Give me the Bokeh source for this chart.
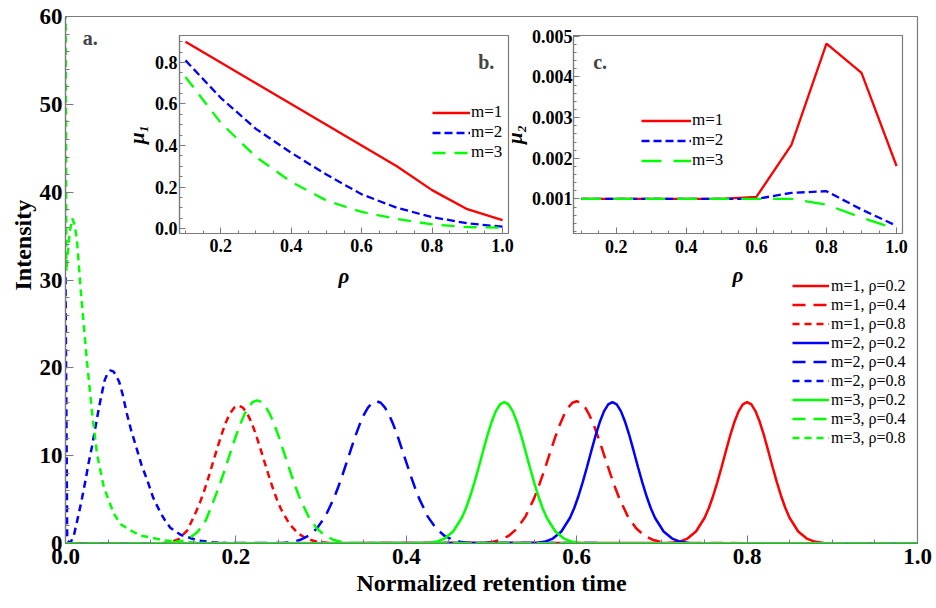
import numpy as np
from bokeh.plotting import figure
from bokeh.models import GridBox, FixedTicker, NumeralTickFormatter, Label, Range1d, Title
from bokeh.embed import file_html
from bokeh.resources import INLINE

FONT = "Liberation Serif"
RED, BLUE, GREEN = "#ff0000", "#0000ff", "#00ff00"
FRAME = "#7a7a7a"

# ---------------- main panel data (normalized retention time, intensity) ----------------
t_m1_r02 = [0.0, 0.71, 0.72, 0.73, 0.74, 0.75, 0.755, 0.76, 0.765, 0.77, 0.775, 0.78, 0.785, 0.79, 0.795,
            0.80, 0.805, 0.81, 0.815, 0.82, 0.825, 0.83, 0.835, 0.84, 0.845, 0.85, 0.86, 0.87, 0.88, 0.89, 1.0]
I_m1_r02 = [0, 0.06, 0.19, 0.56, 1.37, 2.90, 4.01, 5.38, 6.96, 8.68, 10.48, 12.24, 13.80, 15.04, 15.83,
            16.1, 15.83, 15.04, 13.80, 12.24, 10.48, 8.68, 6.96, 5.38, 4.01, 2.90, 1.37, 0.56, 0.19, 0.06, 0]

t_m1_r04 = [0.0, 0.49, 0.50, 0.51, 0.52, 0.53, 0.54, 0.55, 0.555, 0.56, 0.565, 0.57, 0.575, 0.58, 0.585, 0.59, 0.595,
            0.60, 0.605, 0.61, 0.615, 0.62, 0.625, 0.63, 0.635, 0.64, 0.645, 0.65, 0.66, 0.67, 0.68, 0.69, 0.70, 0.71, 1.0]
I_m1_r04 = [0, 0.06, 0.16, 0.39, 0.86, 1.70, 3.09, 5.14, 6.40, 7.78, 9.23, 10.71, 12.17, 13.48, 14.61, 15.47, 16.02,
            16.2, 16.02, 15.47, 14.61, 13.48, 12.17, 10.71, 9.23, 7.78, 6.40, 5.14, 3.09, 1.70, 0.86, 0.39, 0.16, 0.06, 0]

t_m1_r08 = [0.0, 0.113, 0.123, 0.133, 0.143, 0.153, 0.158, 0.163, 0.168, 0.173, 0.178, 0.183, 0.188, 0.193, 0.198,
            0.203, 0.208, 0.213, 0.218, 0.223, 0.228, 0.233, 0.238, 0.243, 0.248, 0.253, 0.263, 0.273, 0.283, 0.293,
            0.303, 0.313, 1.0]
I_m1_r08 = [0, 0.04, 0.15, 0.5, 1.5, 3.55, 4.71, 6.06, 7.58, 9.20, 10.83, 12.37, 13.74, 14.79, 15.46,
            15.7, 15.48, 14.85, 13.85, 12.55, 11.05, 9.45, 7.9, 6.4, 5.05, 3.9, 2.2, 1.15, 0.55, 0.25, 0.1, 0.03, 0]

t_m2_r02 = [0.0, 0.552, 0.562, 0.572, 0.582, 0.592, 0.597, 0.602, 0.607, 0.612, 0.617, 0.622, 0.627, 0.632, 0.637,
            0.642, 0.647, 0.652, 0.657, 0.662, 0.667, 0.672, 0.677, 0.682, 0.687, 0.692, 0.702, 0.712, 0.722, 0.732, 1.0]
I_m2_r02 = [0, 0.06, 0.19, 0.56, 1.37, 2.90, 4.01, 5.38, 6.96, 8.68, 10.48, 12.24, 13.80, 15.04, 15.83,
            16.1, 15.83, 15.04, 13.80, 12.24, 10.48, 8.68, 6.96, 5.38, 4.01, 2.90, 1.37, 0.56, 0.19, 0.06, 0]

t_m2_r04 = [0.0, 0.255, 0.265, 0.275, 0.285, 0.295, 0.305, 0.315, 0.32, 0.325, 0.33, 0.335, 0.34, 0.345, 0.35, 0.355, 0.36,
            0.365, 0.37, 0.375, 0.38, 0.385, 0.39, 0.395, 0.40, 0.405, 0.41, 0.415, 0.425, 0.435, 0.445, 0.455, 0.465, 0.475, 1.0]
I_m2_r04 = [0, 0.06, 0.16, 0.39, 0.86, 1.70, 3.09, 5.14, 6.40, 7.78, 9.23, 10.71, 12.17, 13.48, 14.61, 15.47, 16.02,
            16.2, 16.02, 15.47, 14.61, 13.48, 12.17, 10.71, 9.23, 7.78, 6.40, 5.14, 3.09, 1.70, 0.86, 0.39, 0.16, 0.06, 0]

t_m2_r08 = [0.0, 0.002, 0.006, 0.010, 0.0156, 0.0195, 0.0235, 0.027, 0.031, 0.0345, 0.038, 0.042, 0.046, 0.0495,
            0.0528, 0.056, 0.059, 0.063, 0.067, 0.072, 0.077, 0.083, 0.089, 0.096, 0.103, 0.1115, 0.117, 0.123,
            0.135, 0.155, 0.175, 0.20, 1.0]
I_m2_r08 = [30.3, 0.3, 0.1, 1.0, 3.4, 5.2, 7.2, 9.1, 11.0, 12.9, 14.8, 16.8, 18.6, 19.4,
            19.7, 19.6, 19.2, 18.4, 17.0, 14.8, 12.9, 11.0, 9.0, 7.2, 5.2, 3.5, 2.6, 1.8,
            1.0, 0.35, 0.1, 0.02, 0.0]

t_m3_r02 = [0.0, 0.425, 0.435, 0.445, 0.455, 0.465, 0.47, 0.475, 0.48, 0.485, 0.49, 0.495, 0.5, 0.505, 0.51,
            0.515, 0.52, 0.525, 0.53, 0.535, 0.54, 0.545, 0.55, 0.555, 0.56, 0.565, 0.575, 0.585, 0.595, 0.605, 1.0]
I_m3_r02 = [0, 0.06, 0.19, 0.56, 1.37, 2.90, 4.01, 5.38, 6.96, 8.68, 10.48, 12.24, 13.80, 15.04, 15.83,
            16.1, 15.83, 15.04, 13.80, 12.24, 10.48, 8.68, 6.96, 5.38, 4.01, 2.90, 1.37, 0.56, 0.19, 0.06, 0]

t_m3_r04 = [0.0, 0.115, 0.125, 0.135, 0.145, 0.155, 0.165, 0.175, 0.18, 0.185, 0.19, 0.195, 0.20, 0.205, 0.21, 0.215, 0.22,
            0.225, 0.23, 0.235, 0.24, 0.245, 0.25, 0.255, 0.26, 0.265, 0.27, 0.275, 0.285, 0.295, 0.305, 0.315, 0.325, 0.335, 1.0]
I_m3_r04 = [0, 0.02, 0.08, 0.25, 0.6, 1.3, 2.7, 5.17, 6.44, 7.83, 9.29, 10.78, 12.25, 13.56, 14.70, 15.57, 16.12,
            16.3, 16.12, 15.57, 14.70, 13.56, 12.25, 10.78, 9.29, 7.83, 6.44, 5.17, 3.11, 1.71, 0.87, 0.39, 0.16, 0.06, 0]

t_m3_r08 = [0.0, 0.001, 0.003, 0.005, 0.008, 0.011, 0.0137, 0.0176, 0.0195, 0.0254, 0.0313, 0.037, 0.045,
            0.0567, 0.0646, 0.076, 0.088, 0.10, 0.115, 0.14, 0.17, 1.0]
I_m3_r08 = [66.0, 31.0, 33.5, 35.5, 37.0, 36.2, 34.2, 29.2, 27.0, 20.5, 14.8, 10.2, 6.4,
            3.4, 2.2, 1.5, 0.9, 0.7, 0.35, 0.15, 0.03, 0.0]

series_labels = ["m=1, ρ=0.2", "m=1, ρ=0.4", "m=1, ρ=0.8",
                 "m=2, ρ=0.2", "m=2, ρ=0.4", "m=2, ρ=0.8",
                 "m=3, ρ=0.2", "m=3, ρ=0.4", "m=3, ρ=0.8"]

# ---------------- inset data ----------------
rho = [0.1, 0.2, 0.3, 0.4, 0.5, 0.6, 0.7, 0.8, 0.9, 1.0]
mu1_m1 = [0.90, 0.80, 0.70, 0.60, 0.50, 0.40, 0.30, 0.185, 0.093, 0.04]
mu1_m2 = [0.81, 0.63, 0.48, 0.365, 0.26, 0.165, 0.10, 0.055, 0.025, 0.009]
mu1_m3 = [0.73, 0.51, 0.345, 0.225, 0.135, 0.08, 0.046, 0.02, 0.007, 0.004]
mu2_m1 = [0.001, 0.001, 0.001, 0.001, 0.001, 0.00105, 0.00233, 0.00482, 0.0041, 0.00181]
mu2_m2 = [0.001, 0.001, 0.001, 0.001, 0.001, 0.001, 0.00115, 0.00119, 0.00074, 0.00034]
mu2_m3 = [0.001, 0.001, 0.001, 0.001, 0.001, 0.001, 0.001, 0.00086, 0.00054, 0.00026]
inset_labels = ["m=1", "m=2", "m=3"]

SOLID, LONG, SHORT = "solid", "13 8", "7 5"


def style_axes(fig, xt, xminor, yt, yminor, xfmt, yfmt, tick_px, maj, mnr, xstand, ystand):
    fig.xaxis.ticker = FixedTicker(ticks=xt, minor_ticks=xminor)
    fig.yaxis.ticker = FixedTicker(ticks=yt, minor_ticks=yminor)
    fig.xaxis.formatter = NumeralTickFormatter(format=xfmt)
    fig.yaxis.formatter = NumeralTickFormatter(format=yfmt)
    for ax in (fig.xaxis[0], fig.yaxis[0]):
        ax.major_label_text_font = FONT
        ax.major_label_text_font_style = "bold"
        ax.major_label_text_font_size = tick_px
        ax.major_label_text_color = "black"
        ax.axis_line_color = FRAME
        ax.axis_line_width = 1.2
        ax.major_tick_line_color = FRAME
        ax.minor_tick_line_color = FRAME
        ax.major_tick_in = maj
        ax.major_tick_out = 0
        ax.minor_tick_in = mnr
        ax.minor_tick_out = 0
        ax.axis_label_text_font = FONT
        ax.axis_label_text_color = "black"
    fig.xaxis.major_label_standoff = xstand
    fig.yaxis.major_label_standoff = ystand
    fig.xgrid.visible = False
    fig.ygrid.visible = False
    fig.outline_line_color = FRAME
    fig.outline_line_width = 1.2


def style_legend(lg, loc, glyph_w, font_px, standoff):
    lg.location = loc
    lg.glyph_width = glyph_w
    lg.glyph_height = 19
    lg.label_height = 19
    lg.spacing = 0
    lg.padding = 0
    lg.margin = 0
    lg.label_standoff = standoff
    lg.label_text_font = FONT
    lg.label_text_font_size = font_px
    lg.label_text_color = "black"
    lg.border_line_color = None
    lg.background_fill_alpha = 0


# ---------------- main figure ----------------
p = figure(width=936, height=608, x_range=Range1d(0, 1), y_range=Range1d(0, 60),
           output_backend="svg", toolbar_location=None,
           min_border_left=65, min_border_right=19, min_border_top=16, min_border_bottom=65)
style_axes(p, [0, 0.2, 0.4, 0.6, 0.8, 1.0], list(np.round(np.arange(0, 1.0001, 0.05), 3)),
           [0, 10, 20, 30, 40, 50, 60], list(range(0, 61, 2)), "0.0", "0",
           "23px", 8, 4, 5, 3)
p.xaxis.axis_label = "Normalized retention time"
p.xaxis.axis_label_text_font_size = "24px"
p.xaxis.axis_label_text_font_style = "bold"
p.xaxis.axis_label_standoff = 3

# y-axis title as a side title so it can sit above the frame centre, as in the original
p.add_layout(Title(text="Intensity", align="left", offset=253, standoff=2, text_font=FONT,
                   text_font_style="bold", text_font_size="24px", text_color="black"), "left")

main_series = [
    (t_m1_r02, I_m1_r02, RED, SOLID), (t_m1_r04, I_m1_r04, RED, LONG), (t_m1_r08, I_m1_r08, RED, SHORT),
    (t_m2_r02, I_m2_r02, BLUE, SOLID), (t_m2_r04, I_m2_r04, BLUE, LONG), (t_m2_r08, I_m2_r08, BLUE, SHORT),
    (t_m3_r02, I_m3_r02, GREEN, SOLID), (t_m3_r04, I_m3_r04, GREEN, LONG), (t_m3_r08, I_m3_r08, GREEN, SHORT),
]
for (tx, iy, col, dash), lab in zip(main_series, series_labels):
    p.line(tx, iy, line_color=col, line_width=2.5, line_dash=dash, legend_label=lab)

style_legend(p.legend[0], (727, 96), 37, "16px", 2)

p.add_layout(Label(x=0.029, y=57.5, text="a.", text_font=FONT, text_font_style="bold",
                   text_font_size="20px", text_align="center", text_baseline="middle"))

# ---------------- inset b ----------------
pb = figure(width=407, height=278, x_range=Range1d(0.083, 1.017), y_range=Range1d(-0.024, 0.93),
            output_backend="svg", toolbar_location=None,
            min_border_left=71, min_border_right=7, min_border_top=8, min_border_bottom=67,
            background_fill_color=None, border_fill_color=None)
style_axes(pb, [0.2, 0.4, 0.6, 0.8, 1.0], list(np.round(np.arange(0.1, 1.0001, 0.05), 3)),
           [0.0, 0.2, 0.4, 0.6, 0.8], list(np.round(np.arange(0, 0.91, 0.05), 3)), "0.0", "0.0",
           "18px", 6, 3, 5, 2)
pb.xaxis.axis_label = "ρ"
pb.yaxis.axis_label = "μ₁"
for ax in (pb.xaxis[0], pb.yaxis[0]):
    ax.axis_label_text_font_size = "21px"
    ax.axis_label_text_font_style = "bold italic"
pb.xaxis.axis_label_standoff = 9
pb.yaxis.axis_label_standoff = 3
pb.line(rho, mu1_m1, line_color=RED, line_width=2.3, legend_label=inset_labels[0])
pb.line(rho, mu1_m2, line_color=BLUE, line_width=2.3, line_dash="8 4", legend_label=inset_labels[1])
pb.line(rho, mu1_m3, line_color=GREEN, line_width=2.3, line_dash="13 9", legend_label=inset_labels[2])
style_legend(pb.legend[0], (253, 71), 38, "17px", 1)
pb.add_layout(Label(x=0.954, y=0.804, text="b.", text_font=FONT, text_font_style="bold",
                    text_font_size="20px", text_align="center", text_baseline="middle"))

# ---------------- inset c ----------------
pc = figure(width=415, height=278, x_range=Range1d(0.078, 1.017), y_range=Range1d(0.00015, 0.00502),
            output_backend="svg", toolbar_location=None,
            min_border_left=78, min_border_right=8, min_border_top=13, min_border_bottom=62,
            background_fill_color=None, border_fill_color=None)
style_axes(pc, [0.2, 0.4, 0.6, 0.8, 1.0], list(np.round(np.arange(0.1, 1.0001, 0.05), 3)),
           [0.001, 0.002, 0.003, 0.004, 0.005], list(np.round(np.arange(0.0002, 0.00501, 0.0002), 5)),
           "0.0", "0.000", "18px", 6, 3, 6, 1)
pc.xaxis.axis_label = "ρ"
pc.yaxis.axis_label = "μ₂"
for ax in (pc.xaxis[0], pc.yaxis[0]):
    ax.axis_label_text_font_size = "21px"
    ax.axis_label_text_font_style = "bold italic"
pc.xaxis.axis_label_standoff = 7
pc.yaxis.axis_label_standoff = 2
pc.line(rho, mu2_m1, line_color=RED, line_width=2.3, legend_label=inset_labels[0])
pc.line(rho, mu2_m2, line_color=BLUE, line_width=2.3, line_dash="8 4", legend_label=inset_labels[1])
pc.line(rho, mu2_m3, line_color=GREEN, line_width=2.3, line_dash="20 12", legend_label=inset_labels[2])
style_legend(pc.legend[0], (68, 63), 50, "17px", 1)
pc.add_layout(Label(x=0.154, y=0.00438, text="c.", text_font=FONT, text_font_style="bold",
                    text_font_size="20px", text_align="center", text_baseline="middle"))

grid = GridBox(children=[(p, 0, 0, 3, 5), (pb, 1, 1, 1, 2), (pc, 1, 2, 1, 2)],
               rows=["22px", "278px", "308px"],
               cols=["108px", "387px", "20px", "395px", "26px"])

open("out.html", "w").write(file_html(grid, INLINE))
